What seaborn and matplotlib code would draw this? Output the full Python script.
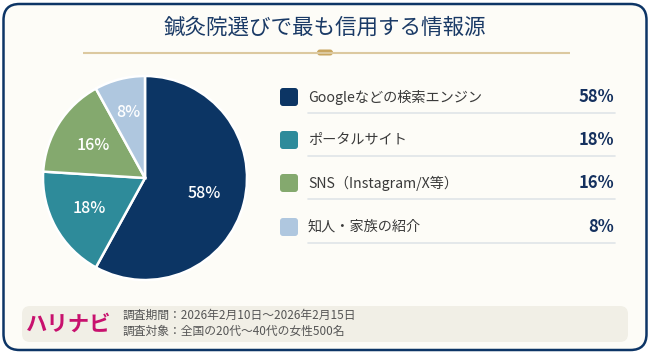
import matplotlib
matplotlib.use("Agg")
import matplotlib.pyplot as plt
from matplotlib.patches import FancyBboxPatch
import numpy as np
import seaborn as sns

# ---- data ----
title = "鍼灸院選びで最も信用する情報源"
categories = ["Googleなどの検索エンジン", "ポータルサイト", "SNS（Instagram/X等）", "知人・家族の紹介"]
values = [58, 18, 16, 8]
colors = ["#0c3564", "#2e8b9a", "#84a96e", "#afc7df"]
brand = "ハリナビ"
notes = ["調査期間：2026年2月10日〜2026年2月15日", "調査対象：全国の20代〜40代の女性500名"]

sns.set_theme(style="white")
plt.rcParams['font.family'] = ['Noto Sans CJK JP', 'DejaVu Sans']

W, H = 650, 354
fig = plt.figure(figsize=(W / 100, H / 100), dpi=100)
fig.patch.set_facecolor("white")

bg = fig.add_axes([0, 0, 1, 1])
bg.set_xlim(0, W)
bg.set_ylim(H, 0)
bg.axis("off")

# outer card
bg.add_patch(FancyBboxPatch((3.5, 4), W - 7, H - 8, boxstyle="round,pad=0,rounding_size=16",
                            fc="#fdfcf7", ec="#0d3566", lw=1.8))
# title
bg.text(325, 27.5, title, ha="center", va="center", fontsize=15.5, color="#1a3a66")
# gold divider
bg.plot([83, 570], [52.5, 52.5], color="#dcc9a0", lw=1.5, solid_capstyle="butt")
bg.add_patch(FancyBboxPatch((317, 49.5), 16, 6, boxstyle="round,pad=0,rounding_size=3",
                            fc="#c9a660", ec="none"))

# legend rows
row_y = [97, 140, 183, 227]
for y, cat, v, c in zip(row_y, categories, values, colors):
    bg.add_patch(FancyBboxPatch((280, y - 9), 18, 18, boxstyle="round,pad=0,rounding_size=3",
                                fc=c, ec="none"))
    bg.text(308, y, cat, ha="left", va="center", fontsize=10.2, color="#3a3a3a")
    bg.text(614, y, f"{v}%", ha="right", va="center", fontsize=12, fontweight="bold",
            color="#14305e")
    bg.plot([308, 615], [y + 16, y + 16], color="#dfe4e8", lw=1.2)

# footer
bg.add_patch(FancyBboxPatch((22, 306), 606, 36, boxstyle="round,pad=0,rounding_size=8",
                            fc="#f1efe6", ec="none"))
bg.text(69, 324, brand, ha="center", va="center", fontsize=15.4, fontweight="bold",
        color="#c8116e")
bg.text(123, 315, notes[0], ha="left", va="center", fontsize=8.5, color="#555555")
bg.text(123, 331, notes[1], ha="left", va="center", fontsize=8.5, color="#555555")

# pie
cx, cy, r = 145, 178, 102
pax = fig.add_axes([(cx - r) / W, (H - cy - r) / H, 2 * r / W, 2 * r / H])
wedges, texts = pax.pie(values, colors=colors, startangle=90, counterclock=False,
                        wedgeprops=dict(edgecolor="white", linewidth=1.8))
pax.set_xlim(-1, 1)
pax.set_ylim(-1, 1)
pax.axis("off")
ang = 90.0
dists = [0.6, 0.62, 0.6, 0.66]
for v, d in zip(values, dists):
    mid = ang - v * 3.6 / 2
    ang -= v * 3.6
    x, y = d * np.cos(np.radians(mid)), d * np.sin(np.radians(mid))
    pax.text(x, y, f"{v}%", ha="center", va="center", fontsize=11.5, color="white",
             fontweight="medium")

fig.savefig("out.png", dpi=100, facecolor=fig.get_facecolor())
